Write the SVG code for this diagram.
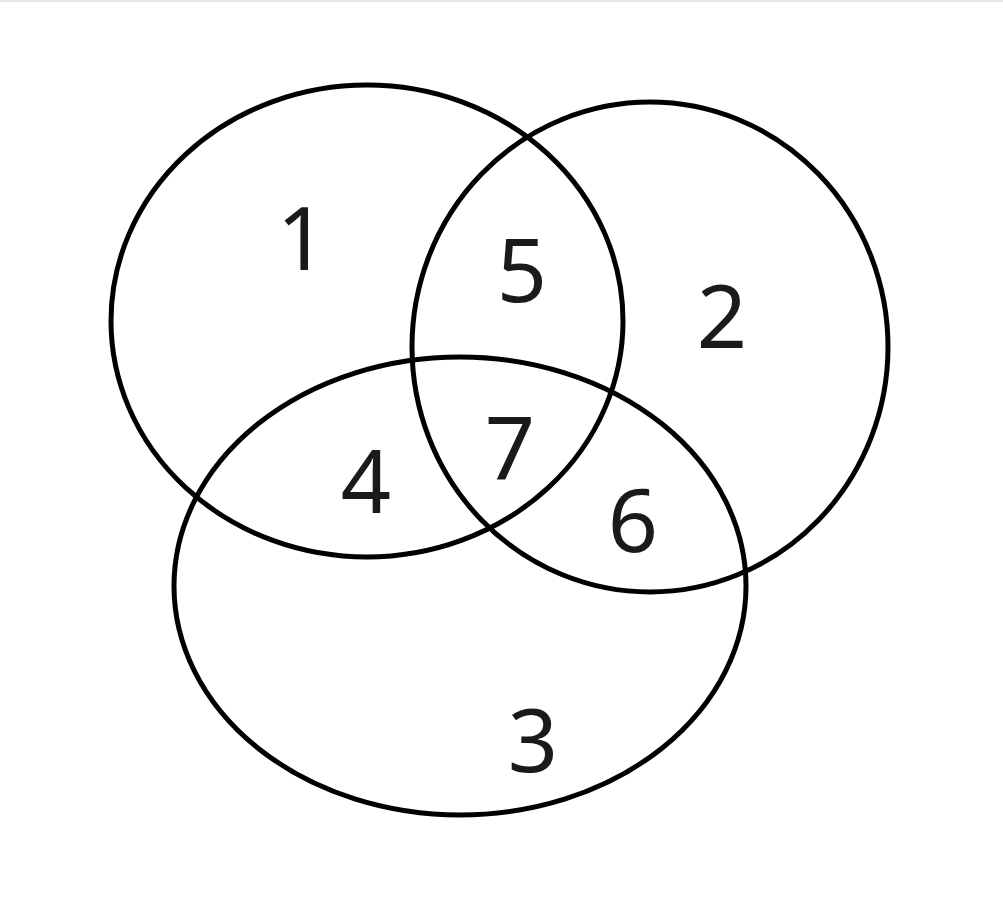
<svg xmlns="http://www.w3.org/2000/svg" width="1003" height="916" viewBox="0 0 1003 916">
<style>
.c{fill:none;stroke:#000;stroke-width:5}
.t{font-family:"Noto Sans","Open Sans",sans-serif;font-size:88px;fill:#1a1a1a;text-anchor:middle}
</style>
<rect width="1003" height="916" fill="#fff"/>
<line x1="0" y1="1" x2="1003" y2="1" stroke="#e6e6e6" stroke-width="2"/>
<g id="connectors"/>
<g id="set1"><ellipse class="c" cx="367" cy="321" rx="256" ry="236"/></g>
<g id="set2"><ellipse class="c" cx="650" cy="347" rx="238" ry="245"/></g>
<g id="set3"><ellipse class="c" cx="460" cy="586" rx="286" ry="229"/></g>
<g id="r1"><text class="t" x="302" y="270">1</text></g>
<g id="r5"><text class="t" x="522" y="302">5</text></g>
<g id="r2"><text class="t" x="722" y="348">2</text></g>
<g id="r7"><text class="t" x="510" y="480">7</text></g>
<g id="r4"><text class="t" x="366" y="513">4</text></g>
<g id="r6"><text class="t" x="633" y="552">6</text></g>
<g id="r3"><text class="t" x="533" y="772">3</text></g>
</svg>
